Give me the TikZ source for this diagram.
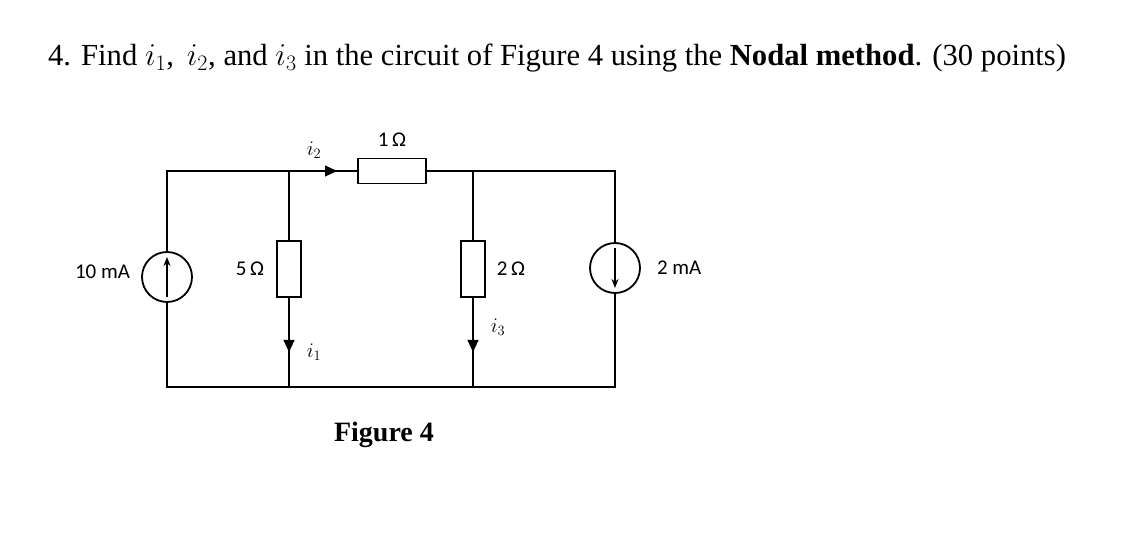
\documentclass[tikz,border=0pt]{standalone}
\usepackage{fontspec}
\setmainfont{Liberation Serif}
\newfontfamily\lbl{Carlito}
\usetikzlibrary{arrows.meta}
\begin{document}
\begin{tikzpicture}[x=1pt,y=-1pt,line width=2pt,
  res/.style={draw,fill=white,line width=1.6pt,inner sep=0pt},
  src/.style={draw,fill=white,circle,minimum size=50pt,inner sep=0pt,line width=1.8pt},
  lab/.style={font=\lbl\fontsize{21}{24}\selectfont,inner sep=0pt},
  cur/.style={font=\fontsize{22}{24}\selectfont,inner sep=0pt},
  tip/.style={-{Triangle[length=12pt,width=11pt]}}]
\useasboundingbox (0,0) rectangle (1146,534);
\node[anchor=west,inner sep=0pt] (title) at (47,58) {\resizebox{1018pt}{!}{\fontsize{24}{28}\selectfont 4. Find $i_1$,\, $i_2$, and $i_3$ in the circuit of Figure 4 using the \textbf{Nodal method}. (30 points)}};
\coordinate (tl) at (167,171); \coordinate (tr) at (615,171);
\coordinate (bl) at (167,387); \coordinate (br) at (615,387);
\coordinate (ta) at (289,171); \coordinate (tb) at (473,171);
\coordinate (ba) at (289,387); \coordinate (bb) at (473,387);
\draw (bl) -- (tl) -- (tr) -- (br) -- cycle;
\draw (ta) -- (ba); \draw (tb) -- (bb);
\node[res,minimum width=68pt,minimum height=25pt] (r1) at (392,171) {};
\node[res,minimum width=24pt,minimum height=56pt] (r5) at (289,269) {};
\node[res,minimum width=24pt,minimum height=56pt] (r2) at (473,269) {};
\node[src] (s1) at (167,277) {};
\node[src] (s2) at (615,268) {};
\draw[line width=1.8pt,-{Stealth[length=9pt,width=7pt]}] (167,297) -- (167,257);
\draw[line width=1.8pt,-{Stealth[length=9pt,width=7pt]}] (615,248) -- (615,288);
\draw[tip,line width=1pt] (320,171) -- (337,171);
\draw[tip,line width=1pt] (289,334) -- (289,352);
\draw[tip,line width=1pt] (473,334) -- (473,352);
\node[lab] (l1) at (392,140) {1\,Ω};
\node[lab] (l5) at (250,269) {5\,Ω};
\node[lab] (l2) at (511,269) {2\,Ω};
\node[lab,anchor=east] (l10) at (131,272) {10 mA};
\node[lab,anchor=west] (l2m) at (656,268) {2 mA};
\node[cur] (i2) at (314,150) {$i_2$};
\node[cur] (i1) at (314,352) {$i_1$};
\node[cur] (i3) at (498,327) {$i_3$};
\node[font=\fontsize{28}{30}\selectfont\bfseries,inner sep=0pt] (fig) at (384,435) {Figure 4};
\end{tikzpicture}
\end{document}
